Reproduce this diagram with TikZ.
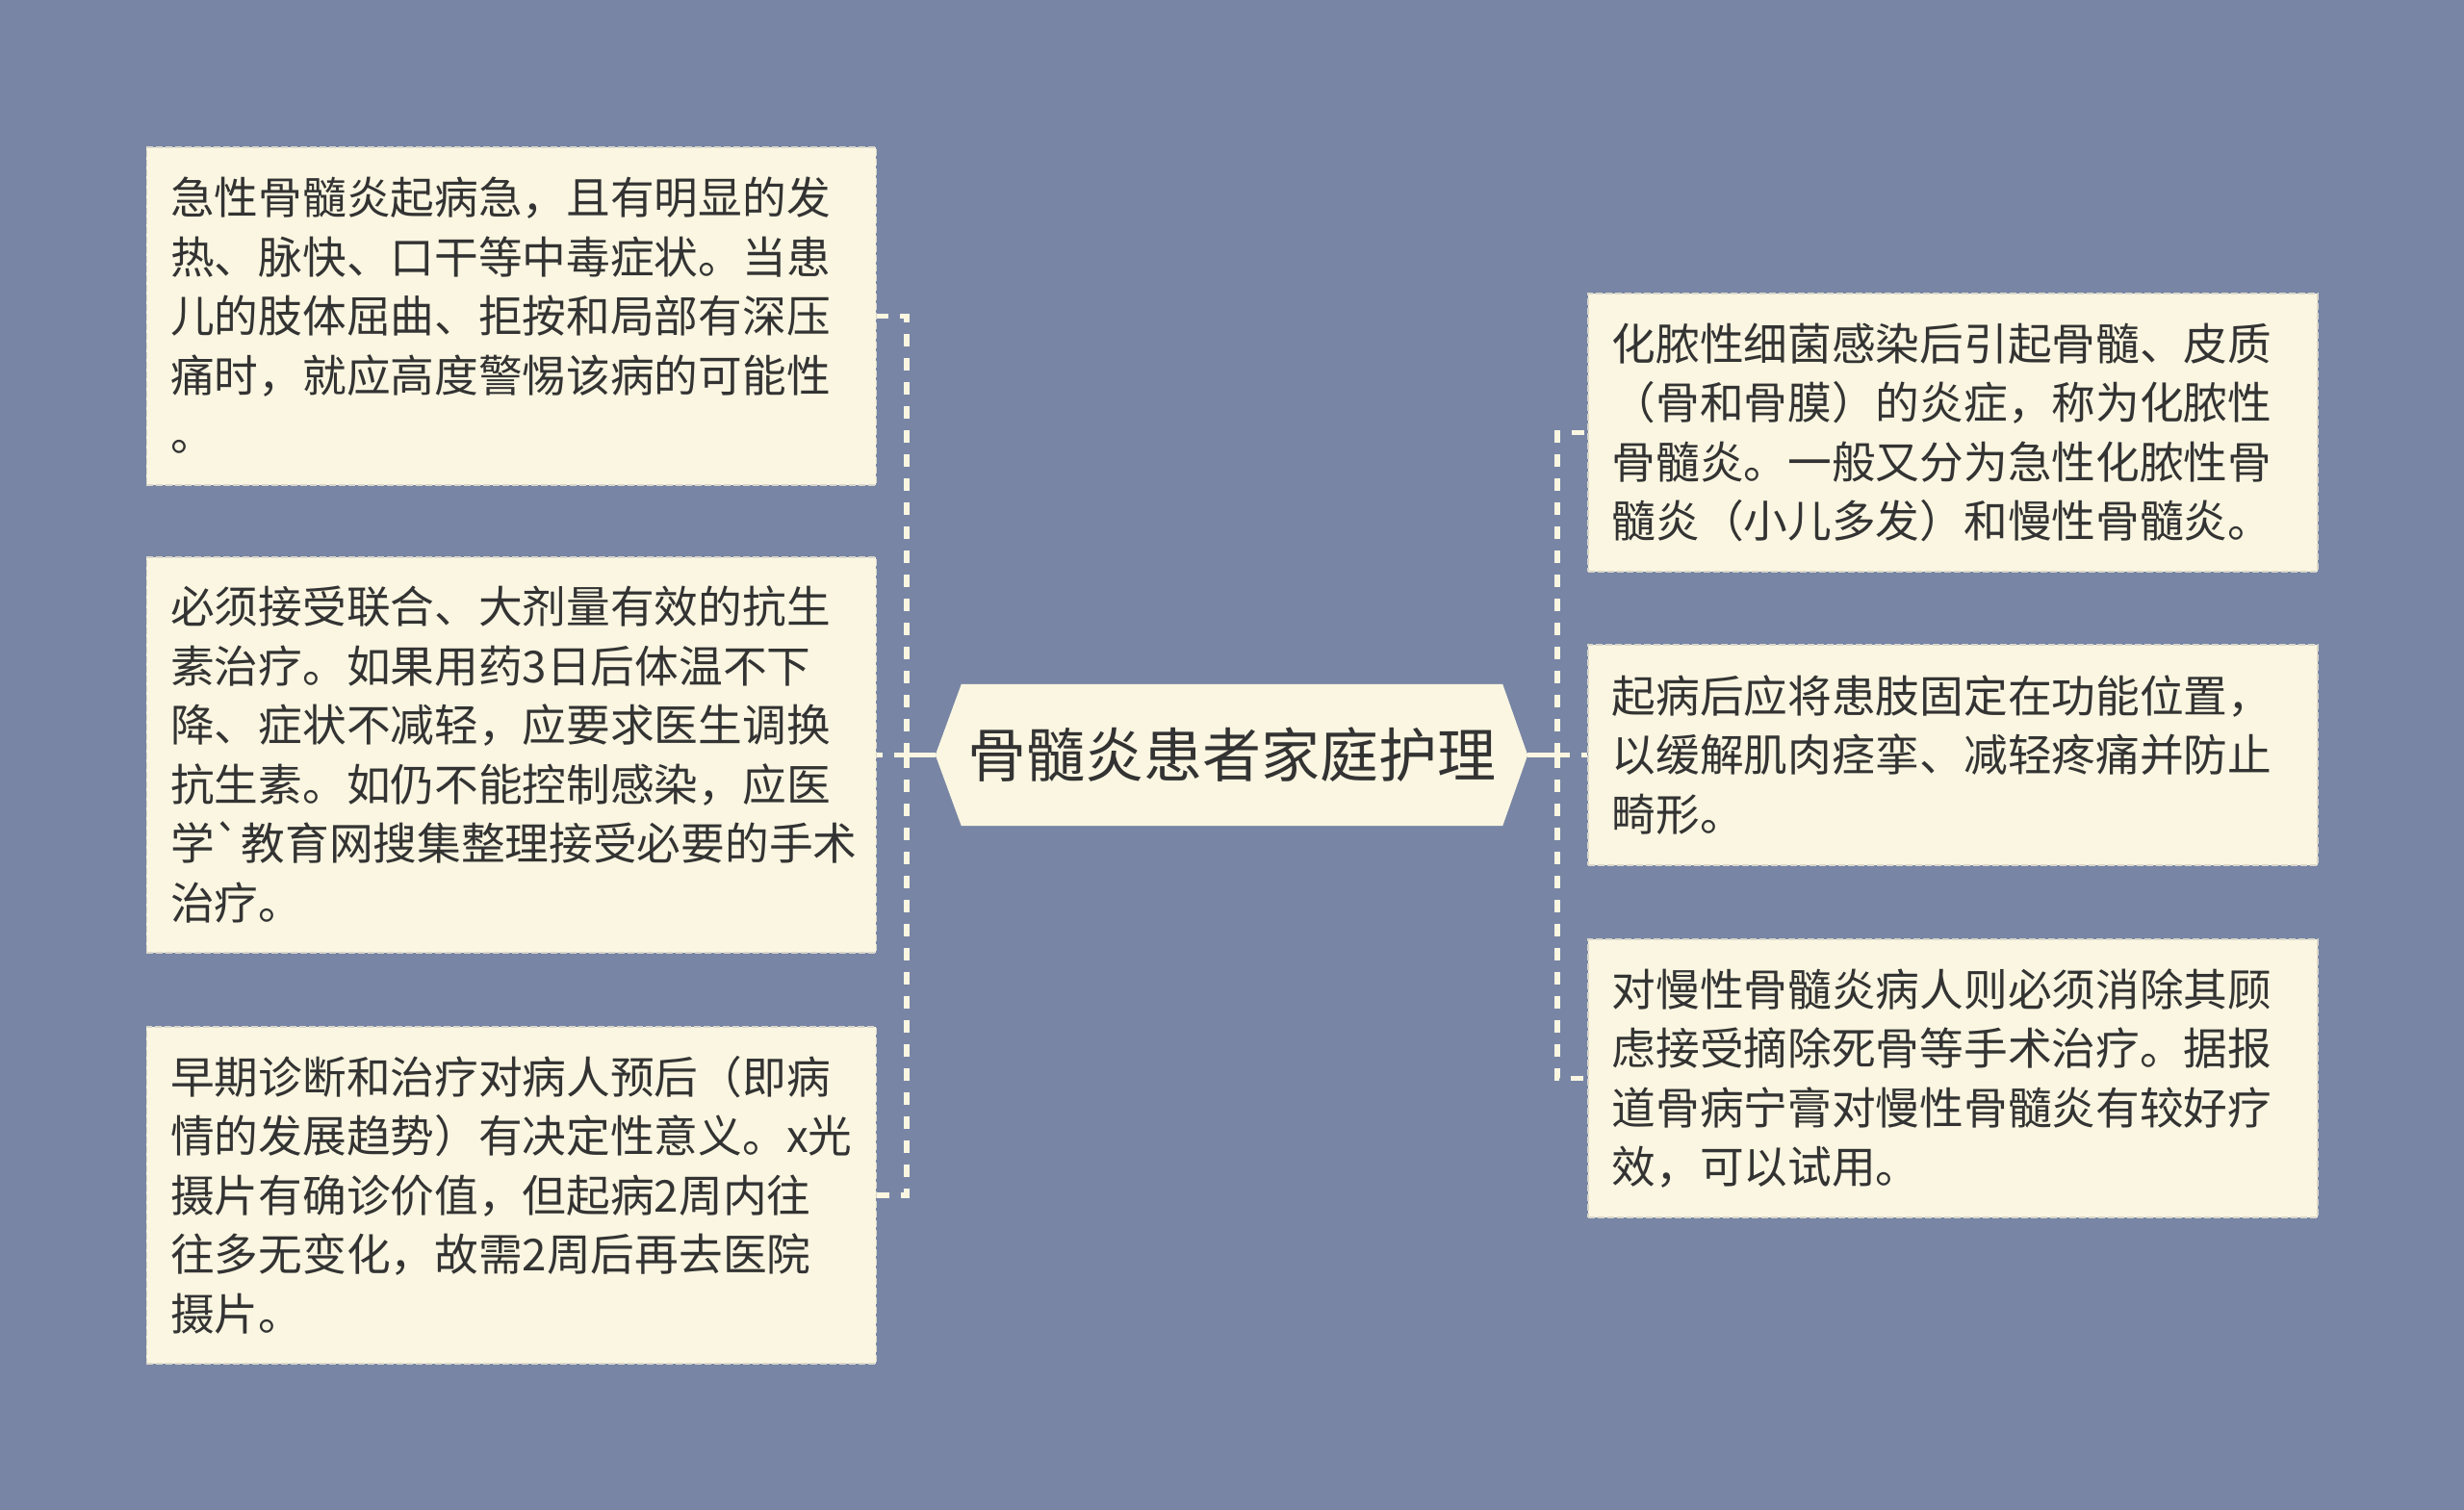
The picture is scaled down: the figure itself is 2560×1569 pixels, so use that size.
\documentclass[tikz,border=0pt]{standalone}
\usepackage{fontspec}
\newfontfamily\cjk{Noto Sans CJK SC}
\usetikzlibrary{calc,backgrounds}
\definecolor{bg}{HTML}{7885A5}
\definecolor{boxfill}{HTML}{FAF6E1}
\definecolor{boxline}{HTML}{DAD7CB}
\definecolor{conncol}{HTML}{FAF6E1}
\definecolor{txt}{HTML}{333333}
\newcommand{\ls}{\rule[-0.12em]{0pt}{1em}}
\tikzset{
  leafbox/.style={rectangle, fill=boxfill, draw=boxline, line width=1.5pt,
    dash pattern=on 7pt off 3pt, anchor=north west, text width=708pt,
    minimum width=758pt, inner xsep=25pt, inner ysep=0pt, align=left,
    text=txt, font=\cjk\fontsize{45.7pt}{61.5pt}\selectfont},
  hubtext/.style={rectangle, minimum width=562pt, minimum height=147pt,
    inner sep=0pt, text=txt, font=\cjk\fontsize{61pt}{70pt}\selectfont},
  conn/.style={draw=conncol, line width=5.5pt, dash pattern=on 13pt off 12pt},
  connsolid/.style={draw=conncol, line width=5.5pt}
}
\begin{document}
\begin{tikzpicture}[x=1pt,y=-1pt]
\useasboundingbox (0,0) rectangle (2560,1569);

% center node
\node[hubtext] (c) at (1280,784.5) {\ls 骨髓炎患者家庭护理};
\coordinate (cl) at ($(c.west)+(-27pt,0)$);
\coordinate (cr) at ($(c.east)+(26pt,0)$);
\begin{scope}[on background layer]
\fill[bg] (0,0) rectangle (2560,1569);
\fill[boxfill] (c.north west) -- (c.north east) -- (cr) -- (c.south east) -- (c.south west) -- (cl) -- cycle;
\end{scope}

% left boxes
\node[leafbox, minimum height=351pt] (b1) at (151.5,152) {%
\ls 急性骨髓炎起病急，且有明显的发\\
热、脉快、口干等中毒症状。当患\\
儿的肢体屈曲、拒按和局部有深压\\
痛时，就应高度警惕该病的可能性\\
\ls 。};
\node[leafbox, minimum height=411pt] (b2) at (151.5,578) {%
\ls 必须接受联合、大剂量有效的抗生\\
素治疗。如果用药3日后体温不下\\
降、症状不减轻，应要求医生调换\\
抗生素。如仍不能控制感染，应医\\
学\char96 教育网搜集整理接受必要的手术\\
\ls 治疗。};
\node[leafbox, minimum height=350pt] (b3) at (151.5,1066) {%
\ls 早期诊断和治疗对病人预后（即病\\
情的发展趋势）有决定性意义。x光\\
摄片有确诊价值，但起病2周内往\\
往多无变化，故需2周后再去医院\\
\ls 摄片。};

% right boxes
\node[leafbox, minimum height=289pt] (r1) at (1649,304) {%
\ls 化脓性细菌感染后引起骨髓、皮质\\
（骨和骨膜）的炎症，称为化脓性\\
骨髓炎。一般又分为急性化脓性骨\\
\ls 髓炎（小儿多发）和慢性骨髓炎。};
\node[leafbox, minimum height=229pt] (r2) at (1649,669) {%
\ls 起病后应将患肢固定在功能位置，\\
以缓解肌肉痉挛、减轻疼痛并防止\\
\ls 畸形。};
\node[leafbox, minimum height=289pt] (r3) at (1649,975) {%
\ls 对慢性骨髓炎病人则必须消除其顾\\
虑接受摘除死骨等手术治疗。据报\\
道骨病宁膏对慢性骨髓炎有较好疗\\
\ls 效，可以试用。};

% connectors left
\coordinate (jl) at (942,784.5);
\draw[connsolid] (cl) -- (jl);
\draw[conn] (jl) -- (b1.east -| jl) -- (b1.east);
\draw[conn] (jl) -- (b3.east -| jl) -- (b3.east);
\draw[conn] (jl) -- (b2.east -| jl) -- (b2.east);

% connectors right
\coordinate (jr) at (1618,784.5);
\draw[connsolid] (cr) -- (jr);
\draw[conn] (jr) -- (r1.west -| jr) -- (r1.west);
\draw[conn] (jr) -- (r3.west -| jr) -- (r3.west);
\draw[conn] (jr) -- (r2.west -| jr) -- (r2.west);
\end{tikzpicture}
\end{document}
